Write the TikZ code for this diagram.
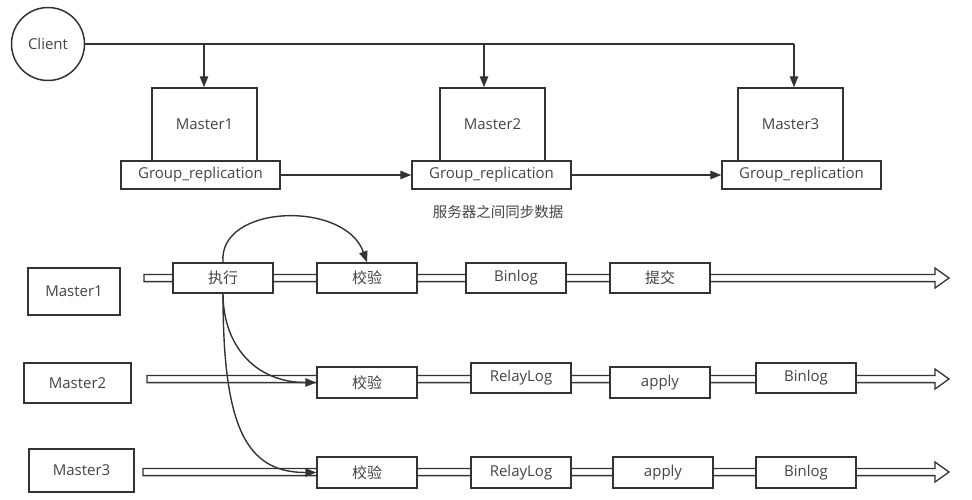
\documentclass[tikz,border=0pt]{standalone}
\usepackage{fontspec}
\setmainfont{Open Sans}
\newfontfamily\cjk{Noto Sans CJK SC}
\usetikzlibrary{arrows.meta}
\definecolor{lc}{HTML}{333333}
\definecolor{tc}{HTML}{444444}
\begin{document}
\begin{tikzpicture}[x=1pt,y=-1pt,
  box/.style={draw=lc, line width=1.5pt, fill=white, inner sep=0pt, text=tc,
    font=\fontsize{15}{18}\selectfont},
  cbox/.style={box, font=\fontsize{15}{18}\selectfont\cjk},
  stepbox/.style={box, minimum width=100, minimum height=30},
  cstepbox/.style={cbox, minimum width=100, minimum height=30},
  arr/.style={draw=lc, line width=1.4pt, -{Triangle[length=11pt,width=8.5pt]}},
  conn/.style={draw=lc, line width=1.4pt},
  tl/.style={draw=lc, line width=1.3pt, fill=white}]
\useasboundingbox (0,0) rectangle (972,499);

% ---------- top part ----------
\node[box, circle, minimum size=73] (client) at (48,44) {Client};
\node[box, minimum width=105, minimum height=73] (m1) at (204.5,124.5) {Master1};
\node[box, minimum width=105, minimum height=73] (m2) at (492.5,124.5) {Master2};
\node[box, minimum width=105, minimum height=73] (m3) at (790.5,124.5) {Master3};
\node[box, minimum width=159, minimum height=28] (g1) at (200.5,175) {Group\_replication};
\node[box, minimum width=159, minimum height=28] (g2) at (491.5,175) {Group\_replication};
\node[box, minimum width=159, minimum height=28] (g3) at (801.5,175) {Group\_replication};
\coordinate (j1) at (204,44);
\coordinate (j2) at (484,44);
\coordinate (j3) at (794,44);
\draw[conn] (client.east) -- (j3);
\draw[arr] (j1) -- (j1 |- m1.north);
\draw[arr] (j2) -- (j2 |- m2.north);
\draw[arr] (j3) -- (j3 |- m3.north);
\draw[arr] (g1.east) -- (g2.west);
\draw[arr] (g2.east) -- (g3.west);
\node[text=tc, font=\fontsize{14.5}{18}\selectfont\cjk] (lbl) at (498,212) {服务器之间同步数据};

% ---------- timelines ----------
\foreach \xs/\yy in {144/278, 147/379, 143/472}{
  \draw[tl] (\xs,\yy-3.6) -- (935,\yy-3.6) -- (935,\yy-10) -- (949,\yy)
    -- (935,\yy+10) -- (935,\yy+3.6) -- (\xs,\yy+3.6) -- cycle;
}

% ---------- bottom rows ----------
\node[box, minimum width=92, minimum height=47] (r1) at (74,291.5) {Master1};
\node[box, minimum width=107, minimum height=40] (r2) at (77.5,383) {Master2};
\node[box, minimum width=105, minimum height=43] (r3) at (81.5,470.5) {Master3};

\node[cstepbox] (e1) at (223,278) {执行};
\node[cstepbox] (v1) at (367,278) {校验};
\node[stepbox]  (b1) at (516,278) {Binlog};
\node[cstepbox] (c1) at (660,278) {提交};

\node[cstepbox, minimum height=31] (v2) at (367,382.5) {校验};
\node[stepbox]  (rl2) at (521,378) {RelayLog};
\node[stepbox, minimum height=31]  (a2) at (660,382.5) {apply};
\node[stepbox]  (b2) at (806,378) {Binlog};

\node[cstepbox, minimum height=31] (v3) at (367,472.5) {校验};
\node[stepbox, minimum height=31]  (rl3) at (521,472.5) {RelayLog};
\node[stepbox, minimum height=31]  (a3) at (663,472.5) {apply};
\node[stepbox, minimum height=31]  (b3) at (806,472.5) {Binlog};

% ---------- curves ----------
\draw[arr] (e1.north) .. controls (218,204) and (345,200) .. (v1.north);
\draw[arr] (e1.south) .. controls (223,345) and (255,382.5) .. (v2.west);
\draw[arr] (e1.south) .. controls (223,425) and (245,472.5) .. (v3.west);
\end{tikzpicture}
\end{document}
